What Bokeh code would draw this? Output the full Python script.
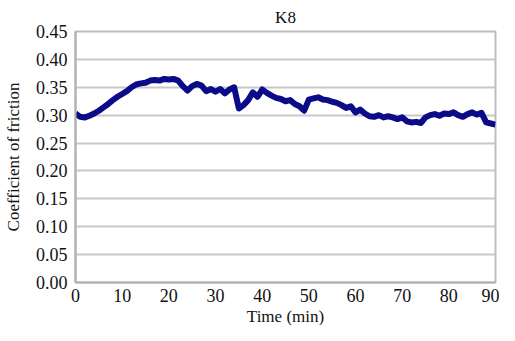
from bokeh.plotting import figure
from bokeh.models import FixedTicker, NumeralTickFormatter, Range1d, ColumnDataSource, Title
from bokeh.embed import file_html
from bokeh.resources import INLINE

title_text = "K8"
x_label = "Time (min)"
y_label = "Coefficient of friction"
x_ticks = [0, 10, 20, 30, 40, 50, 60, 70, 80, 90]
y_ticks = [0.0, 0.05, 0.10, 0.15, 0.20, 0.25, 0.30, 0.35, 0.40, 0.45]

time_min = list(range(0, 91))
friction = [
    0.303, 0.297, 0.296, 0.299, 0.303, 0.308, 0.314, 0.320, 0.327, 0.333,
    0.338, 0.343, 0.350, 0.355, 0.357, 0.358, 0.362, 0.363, 0.362, 0.365,
    0.364, 0.365, 0.362, 0.352, 0.344, 0.352, 0.356, 0.353, 0.343, 0.347,
    0.342, 0.347, 0.339, 0.346, 0.350, 0.312, 0.318, 0.327, 0.341, 0.333,
    0.346, 0.340, 0.335, 0.331, 0.329, 0.325, 0.327, 0.320, 0.316, 0.308,
    0.328, 0.330, 0.332, 0.328, 0.327, 0.324, 0.322, 0.318, 0.313, 0.316,
    0.305, 0.310, 0.303, 0.298, 0.297, 0.300, 0.296, 0.298, 0.296, 0.293,
    0.296, 0.289, 0.287, 0.288, 0.286, 0.296, 0.300, 0.302, 0.299, 0.303,
    0.302, 0.305, 0.300, 0.297, 0.302, 0.305, 0.301, 0.304, 0.287, 0.285,
    0.283,
]

FONT = "Liberation Serif"

p = figure(width=499, height=325, output_backend="svg", toolbar_location=None,
           x_range=Range1d(x_ticks[0], x_ticks[-1]), y_range=Range1d(y_ticks[0], y_ticks[-1]),
           title=title_text, min_border_left=10, min_border_right=4,
           min_border_top=5, min_border_bottom=0)

p.title.align = "center"
p.title.text_font = FONT
p.title.text_font_size = "17px"
p.title.text_font_style = "normal"
p.title.text_color = "#111111"
p.title.offset = 0
p.title.standoff = 10

p.outline_line_color = "#bdbdbd"
p.outline_line_width = 2
p.background_fill_color = "white"
p.border_fill_color = "white"

p.xgrid.visible = False
p.ygrid.grid_line_color = "#c8c8c8"
p.ygrid.grid_line_width = 2
p.ygrid.ticker = FixedTicker(ticks=y_ticks)

for ax in (p.xaxis[0], p.yaxis[0]):
    ax.axis_line_color = "#b0b0b0"
    ax.axis_line_width = 2
    ax.major_tick_line_color = None
    ax.minor_tick_line_color = None
    ax.major_tick_out = 0
    ax.major_tick_in = 0
    ax.minor_tick_out = 0
    ax.major_label_text_font = FONT
    ax.major_label_text_font_size = "18px"
    ax.major_label_text_color = "#111111"
    ax.axis_label_text_font = FONT
    ax.axis_label_text_font_size = "17px"
    ax.axis_label_text_font_style = "normal"
    ax.axis_label_text_color = "#111111"

p.xaxis.ticker = FixedTicker(ticks=x_ticks)
p.yaxis.ticker = FixedTicker(ticks=y_ticks)
p.yaxis.formatter = NumeralTickFormatter(format="0.00")
p.yaxis.axis_label = y_label
p.xaxis.major_label_standoff = 6
p.yaxis.major_label_standoff = 8
p.yaxis.axis_label_standoff = 10

xt = Title(text=x_label, align="center", text_font=FONT, text_font_size="17px",
           text_font_style="normal", text_color="#111111", offset=0, standoff=0)
p.add_layout(xt, "below")

src = ColumnDataSource(dict(t=time_min, f=friction))
p.line("t", "f", source=src, line_color="#0b0b8a", line_width=6, line_join="round")

open("out.html", "w").write(file_html(p, INLINE))
